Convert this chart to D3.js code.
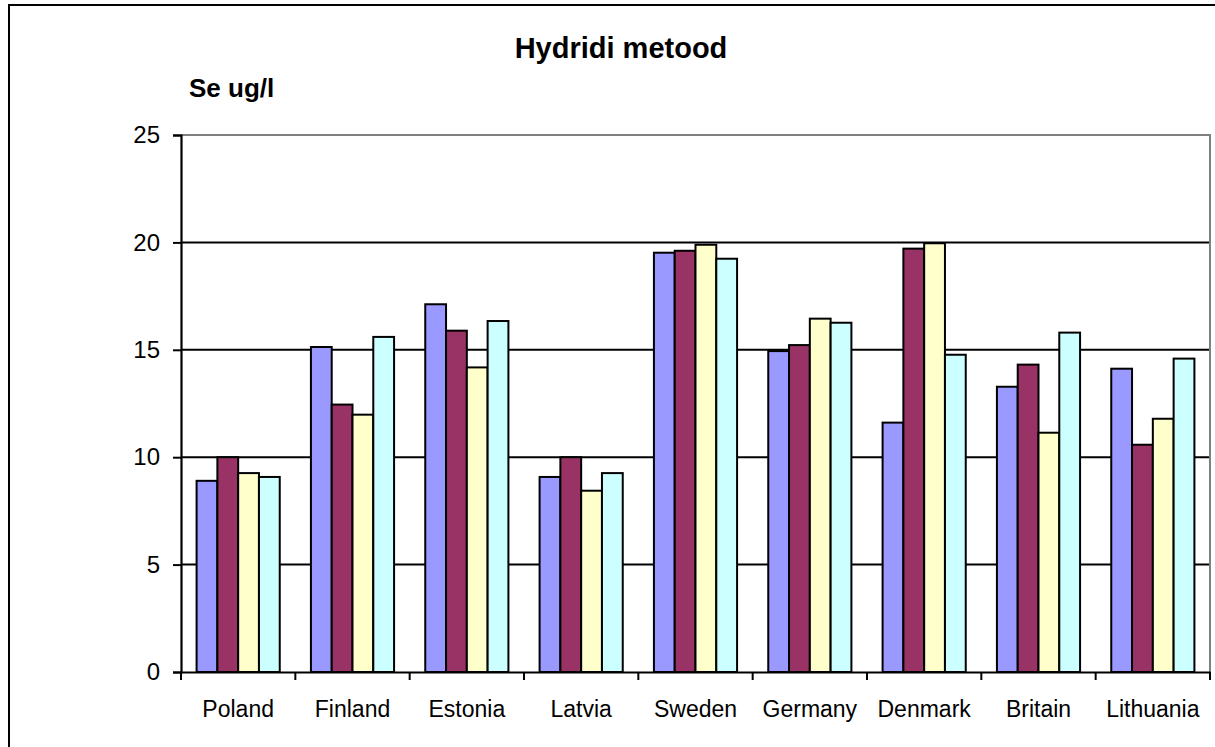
<!DOCTYPE html>
<html>
<head>
<meta charset="utf-8">
<script src="https://cdn.jsdelivr.net/npm/d3@7/dist/d3.min.js"></script>
<style>
  body { margin: 0; background: #fff; }
  text { font-family: "Liberation Sans", Arial, sans-serif; }
</style>
</head>
<body>
<div id="chart"></div>
<script>
// Data
const categories = ["Poland", "Finland", "Estonia", "Latvia", "Sweden", "Germany", "Denmark", "Britain", "Lithuania"];
const seriesNames = ["s1", "s2", "s3", "s4"];
const series1 = [8.9, 15.13, 17.12, 9.08, 19.52, 14.94, 11.61, 13.28, 14.12];
const series2 = [10.0, 12.45, 15.89, 10.0, 19.61, 15.22, 19.71, 14.31, 10.58];
const series3 = [9.26, 11.98, 14.18, 8.44, 19.89, 16.45, 19.96, 11.14, 11.79];
const series4 = [9.08, 15.6, 16.34, 9.26, 19.24, 16.26, 14.77, 15.8, 14.59];
const yTicks = [0, 5, 10, 15, 20, 25];
const colors = ["#9999FF", "#993366", "#FFFFCC", "#CCFFFF"];

(function(){
    const W = 1215, H = 747;
    const plot = {left: 181, right: 1210, top: 135, bottom: 672};

    const svg = d3.select("#chart").append("svg")
        .attr("width", W)
        .attr("height", H);

    // outer chart border (cut off at right and bottom)
    svg.append("rect")
        .attr("x", 9).attr("y", 5)
        .attr("width", W + 20).attr("height", H + 20)
        .style("fill", "none")
        .style("stroke", "#000")
        .style("stroke-width", 2);

    const x0 = d3.scaleBand()
        .domain(categories)
        .range([plot.left, plot.right]);

    const bw = x0.bandwidth();
    const gap = bw * 0.75 / 5.5;
    const x1 = d3.scaleBand()
        .domain(seriesNames)
        .range([gap, bw - gap]);

    const y = d3.scaleLinear()
        .domain([0, 25])
        .range([plot.bottom, plot.top]);

    // gridlines
    svg.selectAll(".grid")
        .data(yTicks.filter(t => t > 0 && t < 25))
        .enter().append("line")
        .attr("x1", plot.left).attr("x2", plot.right)
        .attr("y1", d => y(d)).attr("y2", d => y(d))
        .style("stroke", "#000")
        .style("stroke-width", 2);

    // plot frame top/right in gray
    svg.append("path")
        .attr("d", `M${plot.left},${y(25)}H${plot.right}V${plot.bottom}`)
        .style("fill", "none")
        .style("stroke", "#808080")
        .style("stroke-width", 2);

    // bars
    const rows = categories.map((c, i) => ({
        cat: c,
        vals: [series1[i], series2[i], series3[i], series4[i]]
    }));

    const groups = svg.selectAll(".group")
        .data(rows)
        .enter().append("g")
        .attr("transform", d => `translate(${x0(d.cat)},0)`);

    groups.selectAll("rect")
        .data(d => d.vals.map((v, j) => ({key: seriesNames[j], v: v, j: j})))
        .enter().append("rect")
        .attr("x", d => x1(d.key))
        .attr("width", x1.bandwidth())
        .attr("y", d => y(d.v))
        .attr("height", d => y(0) - y(d.v))
        .style("fill", d => colors[d.j])
        .style("stroke", "#000")
        .style("stroke-width", 2);

    // y axis
    const yAxis = d3.axisLeft(y)
        .tickValues(yTicks)
        .tickSize(8)
        .tickPadding(13);
    const gy = svg.append("g")
        .attr("transform", `translate(${plot.left},0)`)
        .call(yAxis);
    gy.select(".domain").style("stroke", "#000").style("stroke-width", 2.2);
    gy.selectAll(".tick line").style("stroke", "#000").style("stroke-width", 2);
    gy.selectAll(".tick text")
        .style("font-size", "24px")
        .style("font-family", "'Liberation Sans', Arial, sans-serif")
        .style("fill", "#000");

    // x axis
    const xAxis = d3.axisBottom(x0)
        .tickSize(0)
        .tickPadding(29);
    const gx = svg.append("g")
        .attr("transform", `translate(0,${plot.bottom})`)
        .call(xAxis);
    gx.select(".domain").style("stroke", "#000").style("stroke-width", 2.2);
    gx.selectAll(".tick text")
        .style("font-size", "23px")
        .style("font-family", "'Liberation Sans', Arial, sans-serif")
        .style("fill", "#000");

    // tick marks between categories
    svg.selectAll(".xsep")
        .data(categories)
        .enter().append("line")
        .attr("x1", d => x0(d)).attr("x2", d => x0(d))
        .attr("y1", plot.bottom).attr("y2", plot.bottom + 8)
        .style("stroke", "#000")
        .style("stroke-width", 2);
    svg.append("line")
        .attr("x1", plot.right).attr("x2", plot.right)
        .attr("y1", plot.bottom).attr("y2", plot.bottom + 8)
        .style("stroke", "#000")
        .style("stroke-width", 2);

    // titles
    svg.append("text")
        .attr("x", 621).attr("y", 58)
        .attr("text-anchor", "middle")
        .style("font-size", "29px")
        .style("font-weight", "bold")
        .text("Hydridi metood");

    svg.append("text")
        .attr("x", 189).attr("y", 97)
        .style("font-size", "26px")
        .style("font-weight", "bold")
        .text("Se ug/l");
})();
</script>
</body>
</html>
